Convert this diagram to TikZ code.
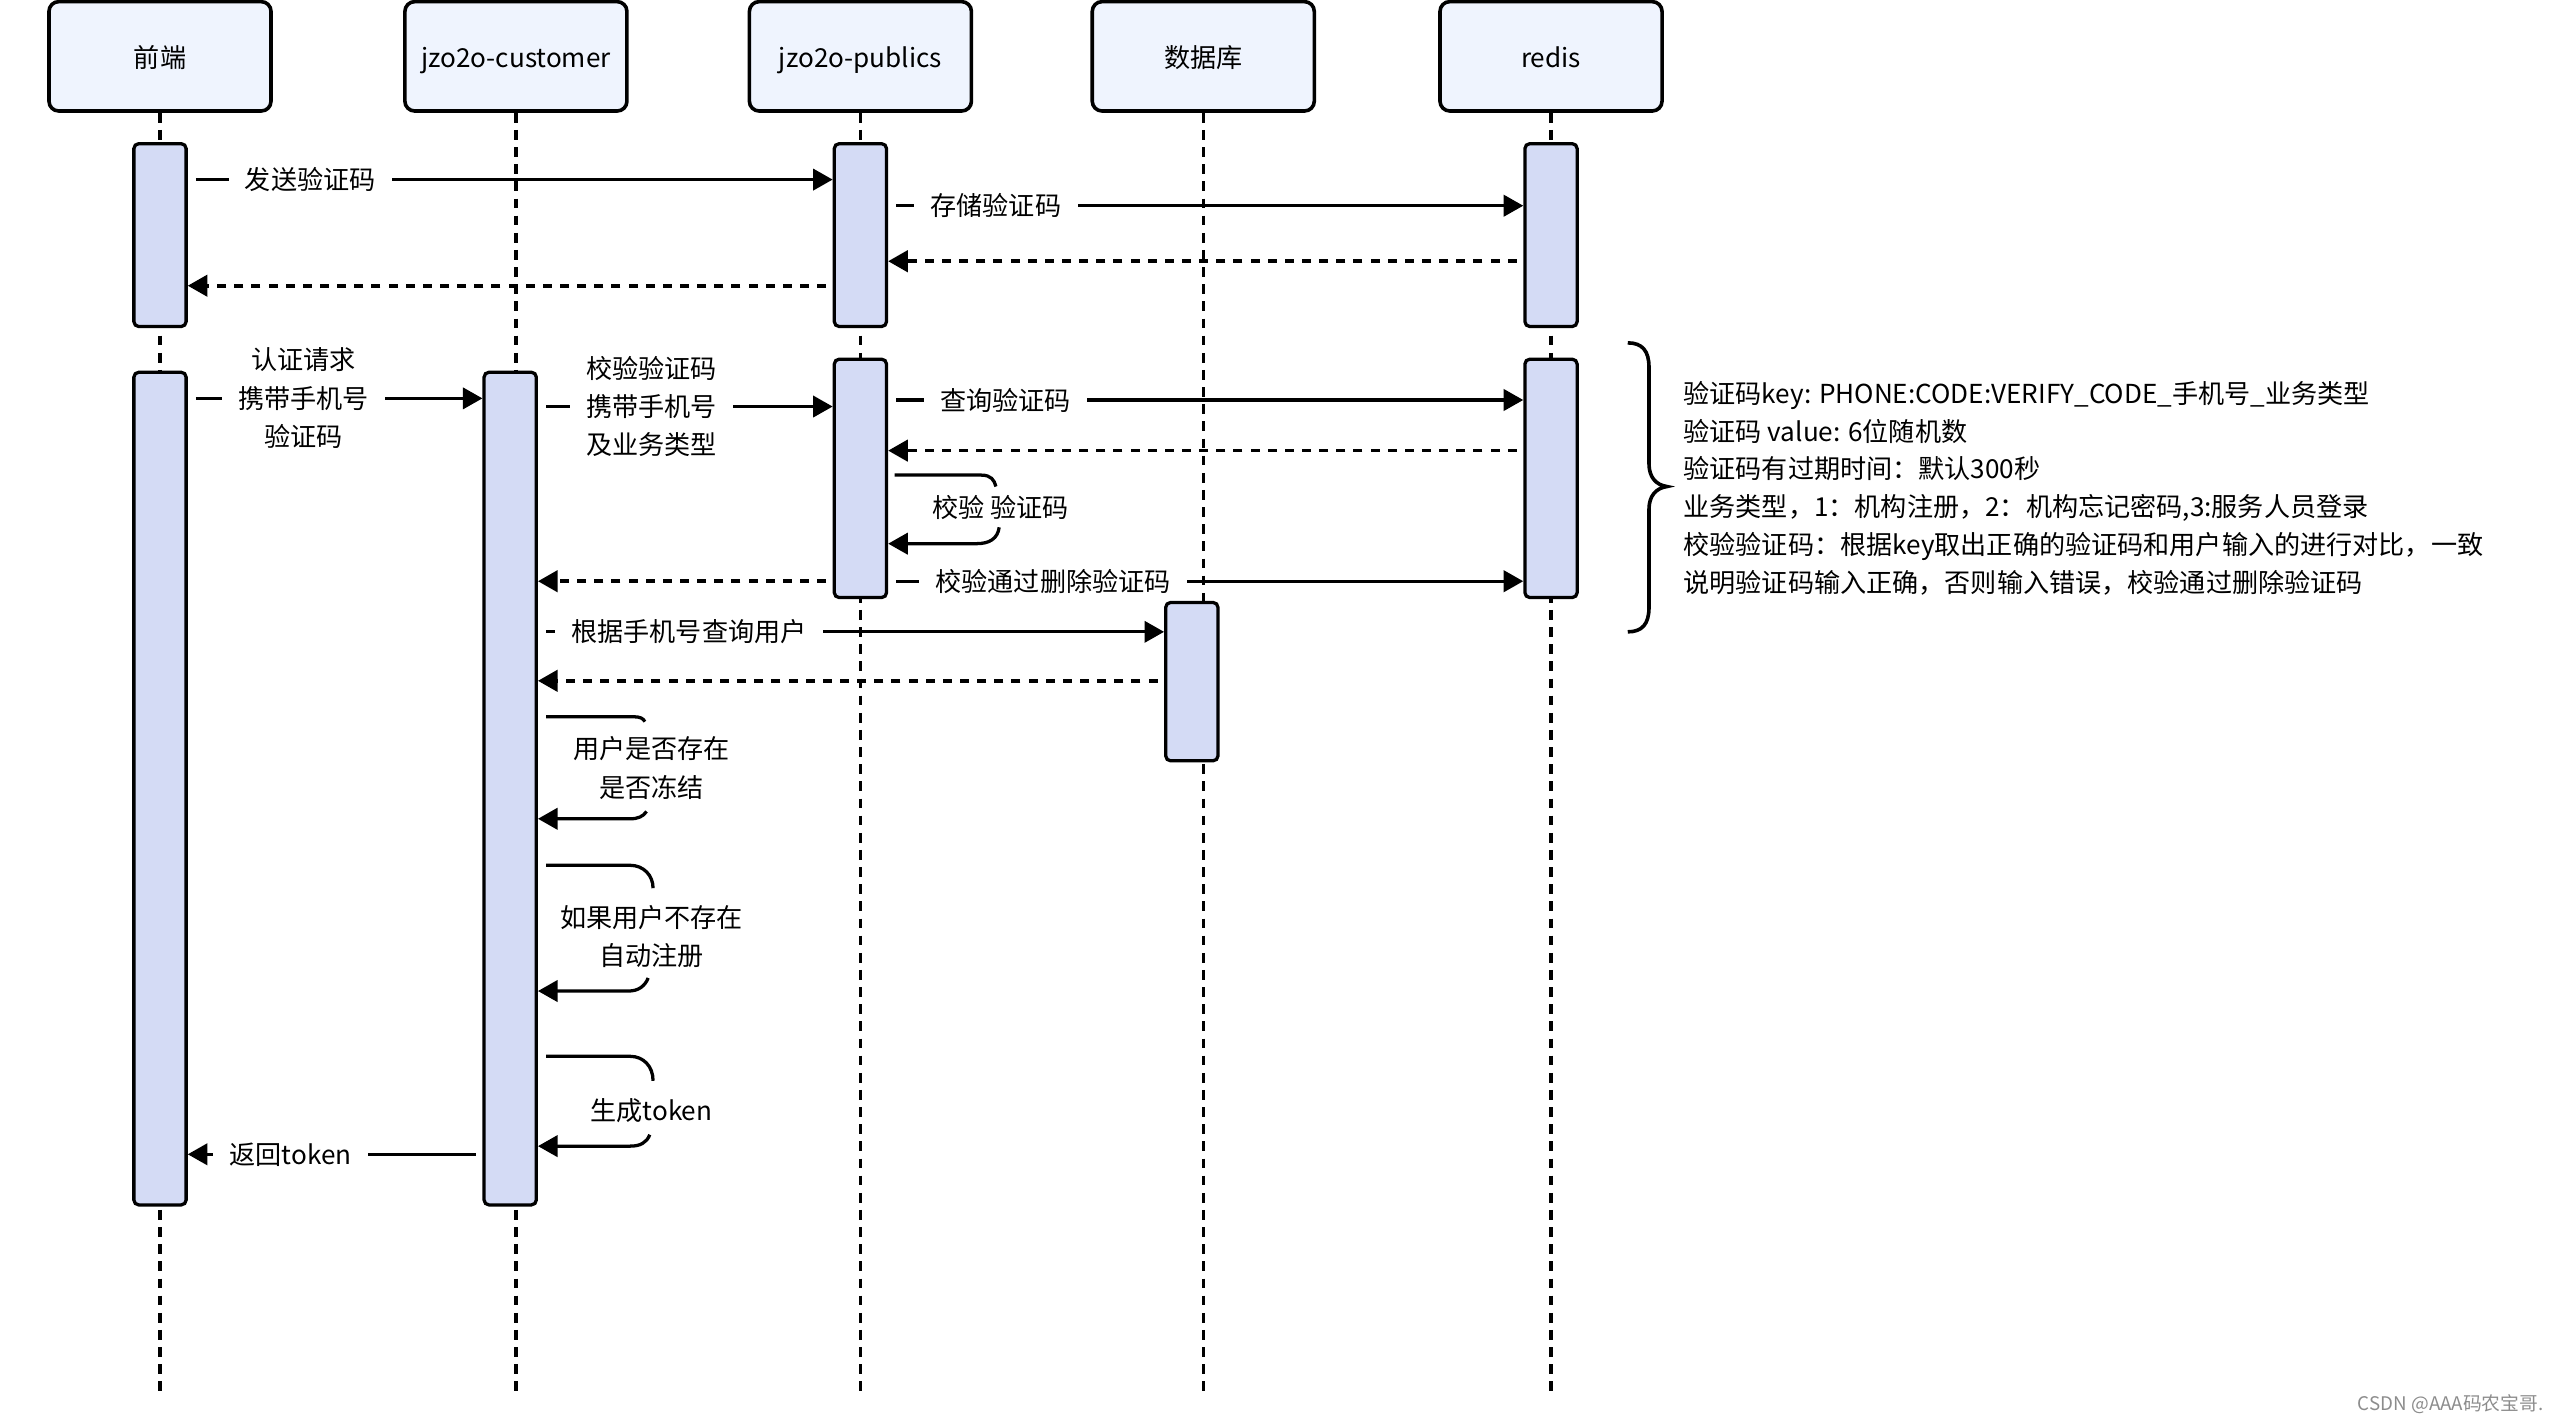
\documentclass[tikz,border=0pt]{standalone}
\usepackage{fontspec}
\setmainfont{Noto Sans CJK SC}
\usetikzlibrary{arrows.meta,calc}
\definecolor{hfill}{RGB}{239,244,254}
\definecolor{bfill}{RGB}{212,219,245}
\begin{document}
\begin{tikzpicture}[x=1pt,y=-1pt,
  hbox/.style={draw, line width=2.2pt, rounded corners=6pt, fill=hfill, minimum width=136pt, minimum height=67pt, inner sep=0pt, text height=17.5pt, text depth=3.5pt, font=\fontsize{16pt}{19pt}\selectfont},
  bar/.style={draw, line width=2pt, rounded corners=3pt, fill=bfill, minimum width=32pt, inner sep=0pt},
  life/.style={line width=2pt, dash pattern=on 6pt off 4.5pt},
  msg/.style={line width=2pt, -{Triangle[length=12pt,width=13pt]}},
  ret/.style={line width=2.2pt, dash pattern=on 5.5pt off 5pt, -{Triangle[length=12pt,width=13pt]}},
  plain/.style={line width=2pt},
  lbl/.style={fill=white, inner xsep=10pt, inner ysep=2pt, align=center, font=\fontsize{16pt}{23.5pt}\selectfont},
  note/.style={inner sep=0pt, align=center, font=\fontsize{16pt}{23.5pt}\selectfont}
]
\useasboundingbox (0,0) rectangle (1568,872);

% headers
\node[hbox] (h1) at (98,34.5) {前端};
\node[hbox] (h2) at (316,34.5) {jzo2o-customer};
\node[hbox] (h3) at (527,34.5) {jzo2o-publics};
\node[hbox] (h4) at (737,34.5) {数据库};
\node[hbox] (h5) at (950,34.5) {redis};

% lifeline ends
\coordinate (e1) at (98,855);
\coordinate (e2) at (316,855);
\coordinate (e3) at (527,855);
\coordinate (e4) at (737,855);
\coordinate (e5) at (950,855);
\draw[life] (h1.south) -- (e1);
\draw[life] (h2.south) -- (e2);
\draw[life] (h3.south) -- (e3);
\draw[life] (h4.south) -- (e4);
\draw[life] (h5.south) -- (e5);

% activation bars
\node[bar, minimum height=112pt] (b1) at (98,144) {};
\node[bar, minimum height=510pt] (b2) at (98,483) {};
\node[bar, minimum height=112pt] (b3) at (527,144) {};
\node[bar, minimum height=146pt] (b4) at (527,293) {};
\node[bar, minimum height=112pt] (b5) at (950,144) {};
\node[bar, minimum height=146pt] (b6) at (950,293) {};
\node[bar, minimum height=510pt] (b7) at (312.5,483) {};
\node[bar, minimum height=97pt] (b8) at (730,417.5) {};

% messages
\draw[msg, shorten <=5pt] (b1.east |- 0,110) -- (b3.west |- 0,110);
\node[lbl] (l1) at (190,110) {发送验证码};

\draw[msg, shorten <=5pt] (b3.east |- 0,126) -- (b5.west |- 0,126);
\node[lbl] (l2) at (610,126) {存储验证码};

\draw[ret, shorten <=4pt] (b5.west |- 0,160) -- (b3.east |- 0,160);
\draw[ret, shorten <=4pt] (b3.west |- 0,175) -- (b1.east |- 0,175);

\draw[msg, shorten <=5pt] (b2.east |- 0,244) -- (b7.west |- 0,244);
\node[lbl] (l3) at (186,244) {认证请求\\携带手机号\\验证码};

\draw[msg, shorten <=5pt] (b7.east |- 0,249) -- (b4.west |- 0,249);
\node[lbl] (l4) at (399,249) {校验验证码\\携带手机号\\及业务类型};

\draw[msg, shorten <=5pt] (b4.east |- 0,245) -- (b6.west |- 0,245);
\node[lbl] (l5) at (616,245) {查询验证码};

\draw[ret, shorten <=4pt] (b6.west |- 0,276) -- (b4.east |- 0,276);

% self loop on publics
\draw[plain] (b4.east |- 0,291) ++(4,0) -- (601,291) .. controls (607,291) and (609,294) .. (610,298);
\node[note] (l6) at (613,311) {校验 验证码};
\draw[msg] (612,323) .. controls (611,330) and (606,333) .. (598,333) -- (b4.east |- 0,333);

\draw[msg, shorten <=5pt] (b4.east |- 0,356) -- (b6.west |- 0,356);
\node[lbl] (l7) at (645,356) {校验通过删除验证码};

\draw[ret, shorten <=4pt] (b4.west |- 0,356) -- (b7.east |- 0,356);

\draw[msg, shorten <=5pt] (b7.east |- 0,387) -- (b8.west |- 0,387);
\node[lbl] (l8) at (422,387) {根据手机号查询用户};

\draw[ret, shorten <=4pt] (b8.west |- 0,417) -- (b7.east |- 0,417);

% self loops on customer
\draw[plain] (b7.east |- 0,439) ++(5,0) -- (388,439) .. controls (392,439) and (394,440) .. (395,442);
\node[note] (l9) at (399,470.5) {用户是否存在\\是否冻结};
\draw[msg] (396,497) .. controls (394,500) and (391,501.5) .. (386,501.5) -- (b7.east |- 0,501.5);

\draw[plain] (b7.east |- 0,530) ++(5,0) -- (386,530) .. controls (394,530) and (400,536) .. (400,544);
\node[note] (l10) at (399,573.5) {如果用户不存在\\自动注册};
\draw[msg] (397,599) .. controls (395,604) and (391,607) .. (385,607) -- (b7.east |- 0,607);

\draw[plain] (b7.east |- 0,647) ++(5,0) -- (386,647) .. controls (394,647) and (400,653) .. (400,662);
\node[note] (l11) at (399,680) {生成token};
\draw[msg] (398,695) .. controls (396,700) and (392,702) .. (386,702) -- (b7.east |- 0,702);

% return token
\draw[msg, shorten <=4pt] (b7.west |- 0,707) -- (b2.east |- 0,707);
\node[lbl] (l12) at (178,707) {返回token};

% brace
\draw[line width=2.2pt] (997,210) .. controls (1006,210) and (1010,215) .. (1010,225) -- (1010,284)
  .. controls (1010,292) and (1014,297) .. (1021,298)
  .. controls (1014,299) and (1010,304) .. (1010,312) -- (1010,372)
  .. controls (1010,382) and (1006,387) .. (997,387);

\node[anchor=west, inner sep=0pt, align=left, font=\fontsize{16pt}{23.2pt}\selectfont] (nt) at (1031,299)
{验证码key: PHONE:CODE:VERIFY\_CODE\_手机号\_业务类型\\
验证码 value: 6位随机数\\
验证码有过期时间：默认300秒\\
业务类型，1：机构注册，2：机构忘记密码,3:服务人员登录\\
校验验证码：根据key取出正确的验证码和用户输入的进行对比，一致\\
说明验证码输入正确，否则输入错误，校验通过删除验证码};

\node[anchor=east, inner sep=0pt, text=black!45, font=\fontsize{11.5pt}{13pt}\selectfont] (wm) at (1558,860) {CSDN @AAA码农宝哥.};
\end{tikzpicture}
\end{document}
